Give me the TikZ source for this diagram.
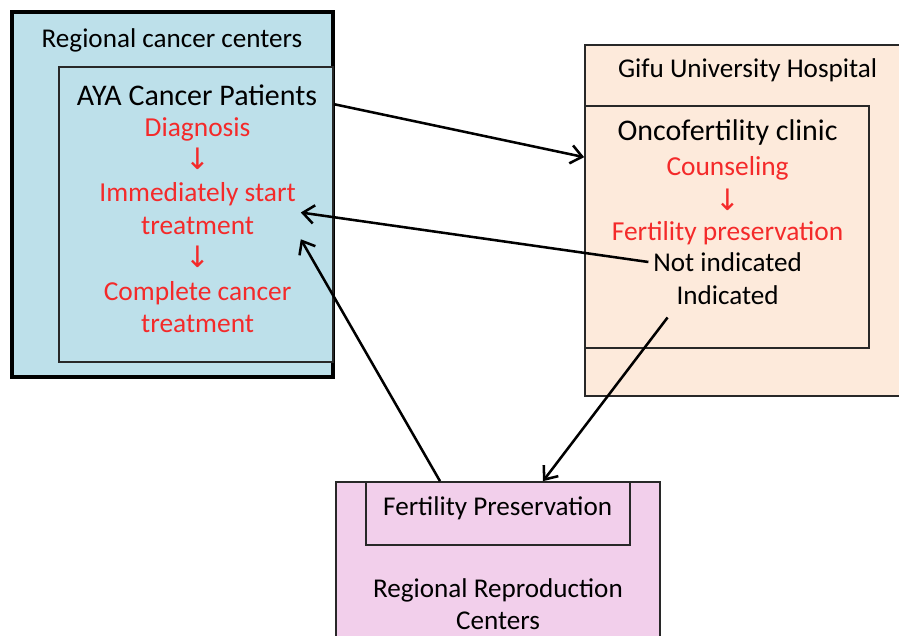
\documentclass[tikz,border=0pt]{standalone}
\usepackage{fontspec}
\setmainfont{Carlito}
\newfontfamily\arrowfont{DejaVu Sans}
\usetikzlibrary{arrows.meta}

\definecolor{centerblue}{RGB}{189,224,234}
\definecolor{hospitalpeach}{RGB}{253,234,219}
\definecolor{reprpink}{RGB}{242,207,235}
\definecolor{steptext}{RGB}{244,42,42}
\definecolor{boxline}{RGB}{40,40,40}

\begin{document}
\begin{tikzpicture}[
        font=\fontsize{19.3}{23}\selectfont,
        frame/.style={rectangle, draw=boxline, line width=1.2pt, inner sep=0pt},
        title/.style={align=center, text=black},
        head/.style={align=center, text=black, font=\fontsize{21.3}{25}\selectfont},
        stage/.style={align=center, text=steptext, font=\fontsize{19.5}{23}\selectfont},
        down/.style={text=steptext, inner sep=0pt, font=\arrowfont\fontsize{21}{21}\selectfont},
        line/.style={draw, -{Straight Barb[length=8pt, width=13pt]}, line width=1.8pt}
      ]
      \useasboundingbox (0,0) rectangle (22.475,-15.9);

      % Regional cancer centers (left)
      \node [frame, fill=centerblue, line width=2.8pt, draw=black, minimum
      width=8.025cm, minimum height=9.125cm] (c_outer) at (4.3125,-4.8625) {};
      \node [frame, fill=centerblue, minimum width=6.85cm, minimum
      height=7.375cm] (c_inner) at (4.9,-5.3625) {};

      % Gifu University Hospital (right)
      \node [frame, fill=hospitalpeach, minimum width=8.0cm, minimum
      height=8.775cm] (g_outer) at (18.625,-5.5125) {};
      \node [frame, fill=hospitalpeach, minimum width=7.1cm, minimum
      height=6.05cm] (g_inner) at (18.175,-5.675) {};

      % Regional Reproduction Centers (bottom)
      \node [frame, fill=reprpink, minimum width=8.1cm, minimum
      height=4.075cm] (r_outer) at (12.45,-14.0875) {};
      \node [frame, fill=reprpink, minimum width=6.6cm, minimum
      height=1.575cm] (r_inner) at (12.45,-12.8375) {};

      % Left texts
      \node [title] (c_title) at (4.3,-1.0) {Regional cancer centers};
      \node [head] (c_aya) at (4.925,-2.375) {AYA Cancer Patients};
      \node [stage] (c_diag) at (4.94,-3.225) {Diagnosis};
      \node [down] (c_down1) at (4.94,-3.98) {↓};
      \node [stage] (c_start) at (4.94,-5.2125) {Immediately start\\treatment};
      \node [down] (c_down2) at (4.94,-6.43) {↓};
      \node [stage] (c_done) at (4.94,-7.675) {Complete cancer\\treatment};

      % Right texts
      \node [title] (g_title) at (18.69,-1.75) {Gifu University Hospital};
      \node [head] (g_clinic) at (18.19,-3.325) {Oncofertility clinic};
      \node [stage] (g_couns) at (18.19,-4.2) {Counseling};
      \node [down] (g_down) at (18.19,-4.99) {↓};
      \node [stage] (g_fp) at (18.19,-5.825) {Fertility preservation};
      \node [title] (g_notind) at (18.19,-6.55) {Not indicated};
      \node [title] (g_ind) at (18.19,-7.375) {Indicated};

      % Bottom texts
      \node [title] (r_fp) at (12.44,-12.7) {Fertility Preservation};
      \node [title] (r_title) at (12.45,-15.1) {Regional Reproduction\\Centers};

      % Referral and return paths
      \path [line] ([yshift=-0.95cm]c_inner.north east)
      -- ([yshift=-1.3cm]g_inner.north west);
      \path [line] (g_notind.west) -- ([yshift=-0.1cm]c_start.east);
      \path [line] ([xshift=-0.1cm, yshift=-0.2cm]g_ind.south west)
      -- ([xshift=1.125cm]r_outer.north);
      \path [line] ([xshift=-1.45cm]r_outer.north) -- (c_start.south east);

    \end{tikzpicture}
\end{document}
